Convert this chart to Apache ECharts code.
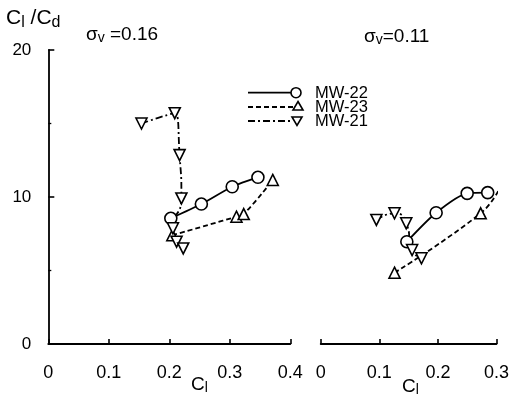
<!DOCTYPE html>
<html><head><meta charset="utf-8">
<script src="https://cdn.jsdelivr.net/npm/echarts@6/dist/echarts.min.js"></script>
<style>html,body{margin:0;padding:0;background:#fff}#c{width:512px;height:398px}</style>
</head><body><div id="c"></div>
<script>
// ---- data ----
const seriesNames = ['MW-22', 'MW-23', 'MW-21'];
const xTicksLeft = [0, 0.1, 0.2, 0.3, 0.4];
const xTicksRight = [0, 0.1, 0.2, 0.3];
const yTicks = [0, 10, 20];
// sigma_v = 0.16 panel  [Cl, Cl/Cd]
const mw22_016 = [[0.2025, 8.55], [0.253, 9.52], [0.304, 10.7], [0.3465, 11.34]];
const mw23_016 = [[0.205, 7.4], [0.311, 8.66], [0.323, 8.84], [0.371, 11.16]];
const mw21_016 = [[0.154, 15.0], [0.209, 15.7], [0.217, 12.85], [0.220, 9.9], [0.206, 7.87], [0.212, 6.96], [0.223, 6.5]];
// sigma_v = 0.11 panel
const mw22_011 = [[0.147, 6.96], [0.197, 8.93], [0.250, 10.25], [0.285, 10.3]];
const mw23_011 = [[0.126, 4.85], [0.273, 8.89], [0.304, 10.48]];
const mw21_011 = [[0.095, 8.44], [0.126, 8.89], [0.146, 8.21], [0.156, 6.39], [0.172, 5.83]];

const FONT = 'Liberation Sans';
const chart = echarts.init(document.getElementById('c'), null, {renderer: 'canvas'});

const styles = {
  'MW-22': {symbol: 'circle', symbolSize: 12, rotate: 0, dash: 'solid', smooth: 0.25},
  'MW-23': {symbol: 'triangle', symbolSize: 11, rotate: 0, dash: [5, 3], smooth: 0.45},
  'MW-21': {symbol: 'triangle', symbolSize: 11, rotate: 180, dash: [7, 3, 2, 3], smooth: 0.6}
};
function mk(name, data, gi) {
  const s = styles[name];
  return {
    name: name, type: 'line', xAxisIndex: gi, yAxisIndex: gi, data: data,
    symbol: s.symbol, symbolSize: s.symbolSize, symbolRotate: s.rotate,
    smooth: s.smooth, showAllSymbol: true,
    lineStyle: {color: '#000', width: 1.8, type: s.dash},
    itemStyle: {color: '#fff', borderColor: '#000', borderWidth: 1.6},
    z: 3
  };
}

const axisX = (gi, ticks) => ({
  type: 'value', gridIndex: gi, min: ticks[0], max: ticks[ticks.length - 1], interval: 0.1,
  offset: 13,
  axisLine: {show: true, lineStyle: {color: '#000', width: 1.8}},
  axisTick: {show: true, inside: true, length: 5, lineStyle: {color: '#000', width: 1.6}},
  axisLabel: {color: '#000', fontSize: 18, fontFamily: FONT, margin: 7,
    formatter: v => (Math.round(v * 10) / 10).toString()},
  splitLine: {show: false}
});

chart.setOption({
  animation: false,
  backgroundColor: '#fff',
  grid: [
    {left: 48.3, right: 221.7, top: 50, bottom: 54},
    {left: 320.7, right: 8.7, top: 50, bottom: 54}
  ],
  xAxis: [axisX(0, xTicksLeft), axisX(1, xTicksRight)],
  yAxis: [
    {type: 'value', gridIndex: 0, min: yTicks[0], max: yTicks[yTicks.length - 1], interval: 10,
      offset: 14,
      axisLine: {show: true, lineStyle: {color: '#000', width: 1.8}},
      axisTick: {show: true, inside: true, length: 6, lineStyle: {color: '#000', width: 1.6}},
      minorTick: {show: true, splitNumber: 2, length: 3, lineStyle: {color: '#000', width: 1.3}},
      axisLabel: {color: '#000', fontSize: 17, fontFamily: FONT, margin: 3},
      splitLine: {show: false}},
    {type: 'value', gridIndex: 1, min: 0, max: 20, show: false}
  ],
  series: [
    mk('MW-22', mw22_016, 0), mk('MW-23', mw23_016, 0), mk('MW-21', mw21_016, 0),
    mk('MW-22', mw22_011, 1), mk('MW-23', mw23_011, 1), mk('MW-21', mw21_011, 1)
  ],
  graphic: [
    {type: 'text', left: 6, top: 8, style: {
      text: '{a|C}{s|l}{a| /C}{s|d}', fill: '#000',
      rich: {a: {fontSize: 21, fontFamily: FONT, fill: '#000'}, s: {fontSize: 16, fontFamily: FONT, fill: '#000', padding: [8, 0, 0, 0]}}}},
    {type: 'text', left: 86, top: 25, style: {
      text: '{a|σ}{s|v}{a| =0.16}', fill: '#000',
      rich: {a: {fontSize: 19, fontFamily: FONT, fill: '#000'}, s: {fontSize: 14, fontFamily: FONT, fill: '#000', padding: [8, 0, 0, 0]}}}},
    {type: 'text', left: 364, top: 27, style: {
      text: '{a|σ}{s|v}{a|=0.11}', fill: '#000',
      rich: {a: {fontSize: 19, fontFamily: FONT, fill: '#000'}, s: {fontSize: 14, fontFamily: FONT, fill: '#000', padding: [8, 0, 0, 0]}}}},
    {type: 'text', left: 191, top: 375, style: {
      text: '{a|C}{s|l}', fill: '#000',
      rich: {a: {fontSize: 19, fontFamily: FONT, fill: '#000'}, s: {fontSize: 14, fontFamily: FONT, fill: '#000', padding: [8, 0, 0, 0]}}}},
    {type: 'text', left: 402, top: 377, style: {
      text: '{a|C}{s|l}', fill: '#000',
      rich: {a: {fontSize: 19, fontFamily: FONT, fill: '#000'}, s: {fontSize: 14, fontFamily: FONT, fill: '#000', padding: [8, 0, 0, 0]}}}},
    // legend
    {type: 'line', shape: {x1: 248, y1: 92.7, x2: 291, y2: 92.7}, style: {stroke: '#000', lineWidth: 1.8}},
    {type: 'circle', shape: {cx: 296, cy: 92.7, r: 5}, style: {fill: '#fff', stroke: '#000', lineWidth: 1.6}},
    {type: 'text', left: 315, top: 85, style: {text: seriesNames[0], fontSize: 16.5, fontFamily: FONT, fill: '#000'}},
    {type: 'line', shape: {x1: 248, y1: 107, x2: 293, y2: 107}, style: {stroke: '#000', lineWidth: 1.8, lineDash: [5, 3]}},
    {type: 'polygon', shape: {points: [[298, 101.5], [303, 110], [293, 110]]}, style: {fill: '#fff', stroke: '#000', lineWidth: 1.6}},
    {type: 'text', left: 315, top: 99, style: {text: seriesNames[1], fontSize: 16.5, fontFamily: FONT, fill: '#000'}},
    {type: 'line', shape: {x1: 248, y1: 121, x2: 292, y2: 121}, style: {stroke: '#000', lineWidth: 1.8, lineDash: [7, 3, 2, 3]}},
    {type: 'polygon', shape: {points: [[292, 117], [302, 117], [297, 125.5]]}, style: {fill: '#fff', stroke: '#000', lineWidth: 1.6}},
    {type: 'text', left: 315, top: 113, style: {text: seriesNames[2], fontSize: 16.5, fontFamily: FONT, fill: '#000'}}
  ]
});
</script>
</body></html>
